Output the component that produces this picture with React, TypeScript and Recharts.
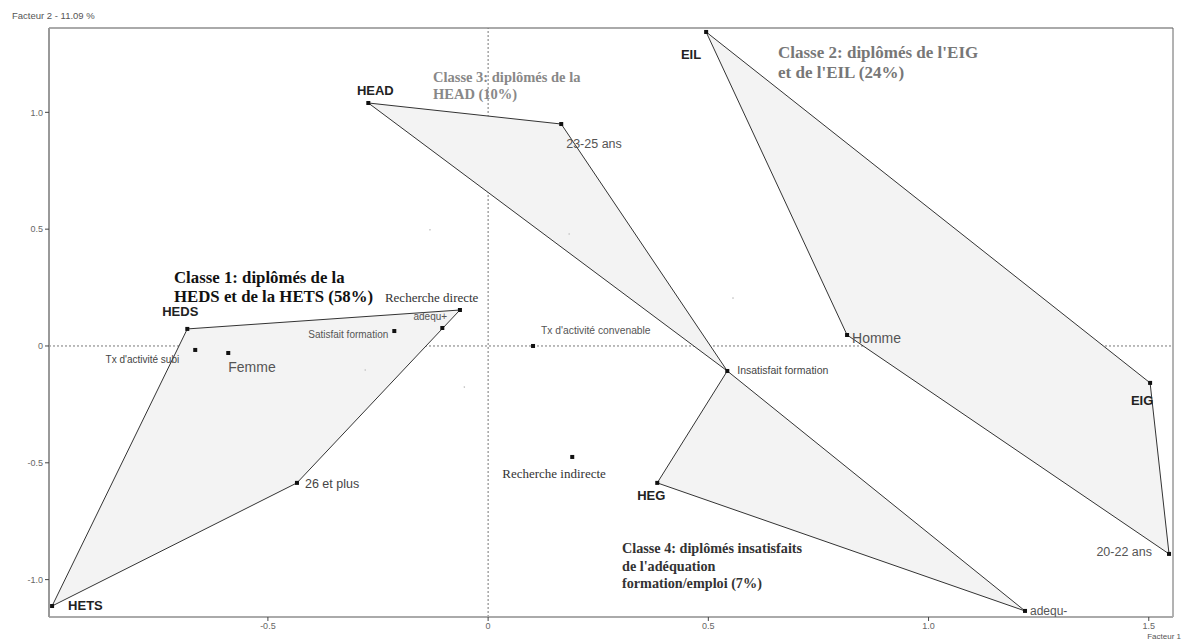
import React from "react";
import {
  ScatterChart,
  Scatter,
  XAxis,
  YAxis,
  ReferenceLine,
} from "recharts";

// ---- Data (factor coordinates) ----
const modalities = [
  "HETS", "HEDS", "Recherche directe", "adequ+", "Satisfait formation",
  "Tx d'activité subi", "Femme", "26 et plus", "HEAD", "23-25 ans",
  "EIL", "Homme", "EIG", "20-22 ans", "Insatisfait formation",
  "HEG", "adequ-", "Tx d'activité convenable", "Recherche indirecte",
];
const factor1 = [
  -0.99, -0.683, -0.064, -0.104, -0.213,
  -0.665, -0.59, -0.434, -0.272, 0.166,
  0.495, 0.815, 1.503, 1.546, 0.543,
  0.384, 1.219, 0.102, 0.191,
];
const factor2 = [
  -1.113, 0.073, 0.154, 0.077, 0.064,
  -0.017, -0.03, -0.586, 1.04, 0.95,
  1.344, 0.047, -0.158, -0.89, -0.107,
  -0.586, -1.134, 0.0, -0.475,
];

const minorF1 = [-0.132, 0.184, -0.279, -0.054, 0.556];
const minorF2 = [0.497, 0.479, -0.103, -0.176, 0.205];

const class1Hull = ["HEDS", "Recherche directe", "26 et plus", "HETS"];
const class2Hull = ["EIL", "EIG", "20-22 ans", "Homme"];
const class3Hull = ["HEAD", "23-25 ans", "Insatisfait formation"];
const class4Hull = ["HEG", "Insatisfait formation", "adequ-"];

const xTicks = [-0.5, 0, 0.5, 1.0, 1.5];
const yTicks = [-1.0, -0.5, 0, 0.5, 1.0];
const xDomain = [-0.997, 1.555];
const yDomain = [-1.16, 1.361];

const xAxisTitle = "Facteur 1";
const yAxisTitle = "Facteur 2  -  11.09 %";

const class1Title = ["Classe 1: diplômés de la", "HEDS et de la HETS (58%)"];
const class2Title = ["Classe 2: diplômés de l'EIG", "et de l'EIL (24%)"];
const class3Title = ["Classe 3: diplômés de la", "HEAD (10%)"];
const class4Title = ["Classe 4: diplômés insatisfaits", "de l'adéquation", "formation/emploi (7%)"];

// ---- Build tables ----
const points = modalities.map((name, i) => ({ name, x: factor1[i], y: factor2[i] }));
const minorPoints = minorF1.map((x, i) => ({ x, y: minorF2[i] }));
const hull = (names: string[]) => names.map((n) => points.find((p) => p.name === n)!);

// ---- Label styling (presentation only) ----
const SANS = "'Liberation Sans', Arial, sans-serif";
const SERIF = "'Liberation Serif', 'Times New Roman', serif";

type LS = { dx: number; dy: number; anchor: "start" | "middle" | "end"; size: number; bold?: boolean; color: string; font?: string };
const labelStyle: Record<string, LS> = {
  HETS: { dx: 16, dy: 4, anchor: "start", size: 13, bold: true, color: "#222" },
  HEDS: { dx: -7, dy: -13, anchor: "middle", size: 13, bold: true, color: "#222" },
  HEAD: { dx: 7, dy: -8, anchor: "middle", size: 13, bold: true, color: "#222" },
  EIL: { dx: -5, dy: 27, anchor: "end", size: 13, bold: true, color: "#222" },
  EIG: { dx: -8, dy: 22, anchor: "middle", size: 13, bold: true, color: "#222" },
  HEG: { dx: -6, dy: 17, anchor: "middle", size: 13, bold: true, color: "#222" },
  "Recherche directe": { dx: -75, dy: -8, anchor: "start", size: 13, color: "#333", font: SERIF },
  "adequ+": { dx: -12, dy: -8, anchor: "middle", size: 10, color: "#555" },
  "Satisfait formation": { dx: -6, dy: 7, anchor: "end", size: 10, color: "#555" },
  "Tx d'activité subi": { dx: -16, dy: 13, anchor: "end", size: 10, color: "#444" },
  Femme: { dx: 0, dy: 19, anchor: "start", size: 14, color: "#555" },
  "26 et plus": { dx: 8, dy: 5, anchor: "start", size: 12.5, color: "#444" },
  "23-25 ans": { dx: 5, dy: 24, anchor: "start", size: 12.5, color: "#555" },
  Homme: { dx: 5, dy: 8, anchor: "start", size: 14, color: "#555" },
  "20-22 ans": { dx: -17, dy: 2, anchor: "end", size: 12.5, color: "#555" },
  "Insatisfait formation": { dx: 10, dy: 3, anchor: "start", size: 10.5, color: "#444" },
  "adequ-": { dx: 5, dy: 4, anchor: "start", size: 12, color: "#555" },
  "Tx d'activité convenable": { dx: 8, dy: -12, anchor: "start", size: 10.3, color: "#555" },
  "Recherche indirecte": { dx: -70, dy: 21, anchor: "start", size: 13, color: "#333", font: SERIF },
};

const PolygonLine = (props: any) => {
  const pts = props.points || [];
  if (!pts.length) return null;
  const d = "M" + pts.map((p: any) => `${p.x},${p.y}`).join("L") + "Z";
  return <path d={d} fill="#f3f3f3" stroke="#333" strokeWidth={1} />;
};

const NoShape = () => <g />;

const PointShape = (props: any) => {
  const { cx, cy, payload } = props;
  const s = labelStyle[payload.name];
  return (
    <g>
      <rect x={cx - 2} y={cy - 2} width={4} height={4} fill="#111" />
      {s && (
        <text
          x={cx + s.dx}
          y={cy + s.dy}
          textAnchor={s.anchor}
          fontSize={s.size}
          fontWeight={s.bold ? "bold" : "normal"}
          fill={s.color}
          fontFamily={s.font || SANS}
        >
          {payload.name}
        </text>
      )}
    </g>
  );
};

const MinorShape = (props: any) => (
  <circle cx={props.cx} cy={props.cy} r={0.8} fill="#bbb" />
);

const TitleBlock = ({ lines, x, y, lh, size, color }: { lines: string[]; x: number; y: number; lh: number; size: number; color: string }) => (
  <text x={x} y={y} fontFamily={SERIF} fontWeight="bold" fontSize={size} fill={color}>
    {lines.map((l, i) => (
      <tspan key={i} x={x} dy={i === 0 ? 0 : lh}>
        {l}
      </tspan>
    ))}
  </text>
);

const fmt = (v: number) => (v === 0 ? "0" : v.toFixed(1));

export default function App() {
  const W = 1182;
  const H = 631;
  return (
    <div style={{ position: "relative", width: W, height: H }}>
      <ScatterChart width={W} height={H} margin={{ top: 20, right: 17, left: 0, bottom: 0 }}>
        <XAxis
          type="number"
          dataKey="x"
          domain={xDomain}
          ticks={xTicks}
          allowDataOverflow
          tickFormatter={fmt}
          height={22}
          tickSize={4}
          tick={{ fontSize: 9, fill: "#666", fontFamily: SANS }}
          axisLine={{ stroke: "#aaa", strokeWidth: 2 }}
          tickLine={{ stroke: "#444" }}
        />
        <YAxis
          type="number"
          dataKey="y"
          domain={yDomain}
          ticks={yTicks}
          allowDataOverflow
          tickFormatter={fmt}
          width={41}
          tickSize={4}
          tick={{ fontSize: 9, fill: "#666", fontFamily: SANS }}
          axisLine={{ stroke: "#999", strokeWidth: 2 }}
          tickLine={{ stroke: "#444" }}
        />
        <ReferenceLine y={yDomain[1]} stroke="#aaa" strokeWidth={2} />
        <ReferenceLine x={xDomain[1]} stroke="#666" strokeWidth={1} />
        <Scatter data={hull(class1Hull)} line={PolygonLine} shape={NoShape} isAnimationActive={false} />
        <Scatter data={hull(class2Hull)} line={PolygonLine} shape={NoShape} isAnimationActive={false} />
        <Scatter data={hull(class3Hull)} line={PolygonLine} shape={NoShape} isAnimationActive={false} />
        <Scatter data={hull(class4Hull)} line={PolygonLine} shape={NoShape} isAnimationActive={false} />
        <ReferenceLine x={0} stroke="#777" strokeDasharray="2 2" />
        <ReferenceLine y={0} stroke="#777" strokeDasharray="2 2" />
        <Scatter data={minorPoints} shape={MinorShape} isAnimationActive={false} />
        <Scatter data={points} shape={PointShape} isAnimationActive={false} />
      </ScatterChart>
      <svg
        width={W}
        height={H}
        style={{ position: "absolute", left: 0, top: 0, overflow: "visible", pointerEvents: "none" }}
      >
        <text x={4} y={11} fontSize={9.5} fill="#555" fontFamily={SANS}>
          {yAxisTitle}
        </text>
        <text x={1173} y={630.5} fontSize={8} textAnchor="end" fill="#555" fontFamily={SANS}>
          {xAxisTitle}
        </text>
        <TitleBlock lines={class1Title} x={166} y={275} lh={19} size={16.8} color="#111" />
        <TitleBlock lines={class3Title} x={425} y={74} lh={17} size={14.5} color="#888" />
        <TitleBlock lines={class2Title} x={770} y={50} lh={20} size={17} color="#777" />
        <TitleBlock lines={class4Title} x={614} y={545} lh={17.5} size={14.2} color="#333" />
      </svg>
    </div>
  );
}
